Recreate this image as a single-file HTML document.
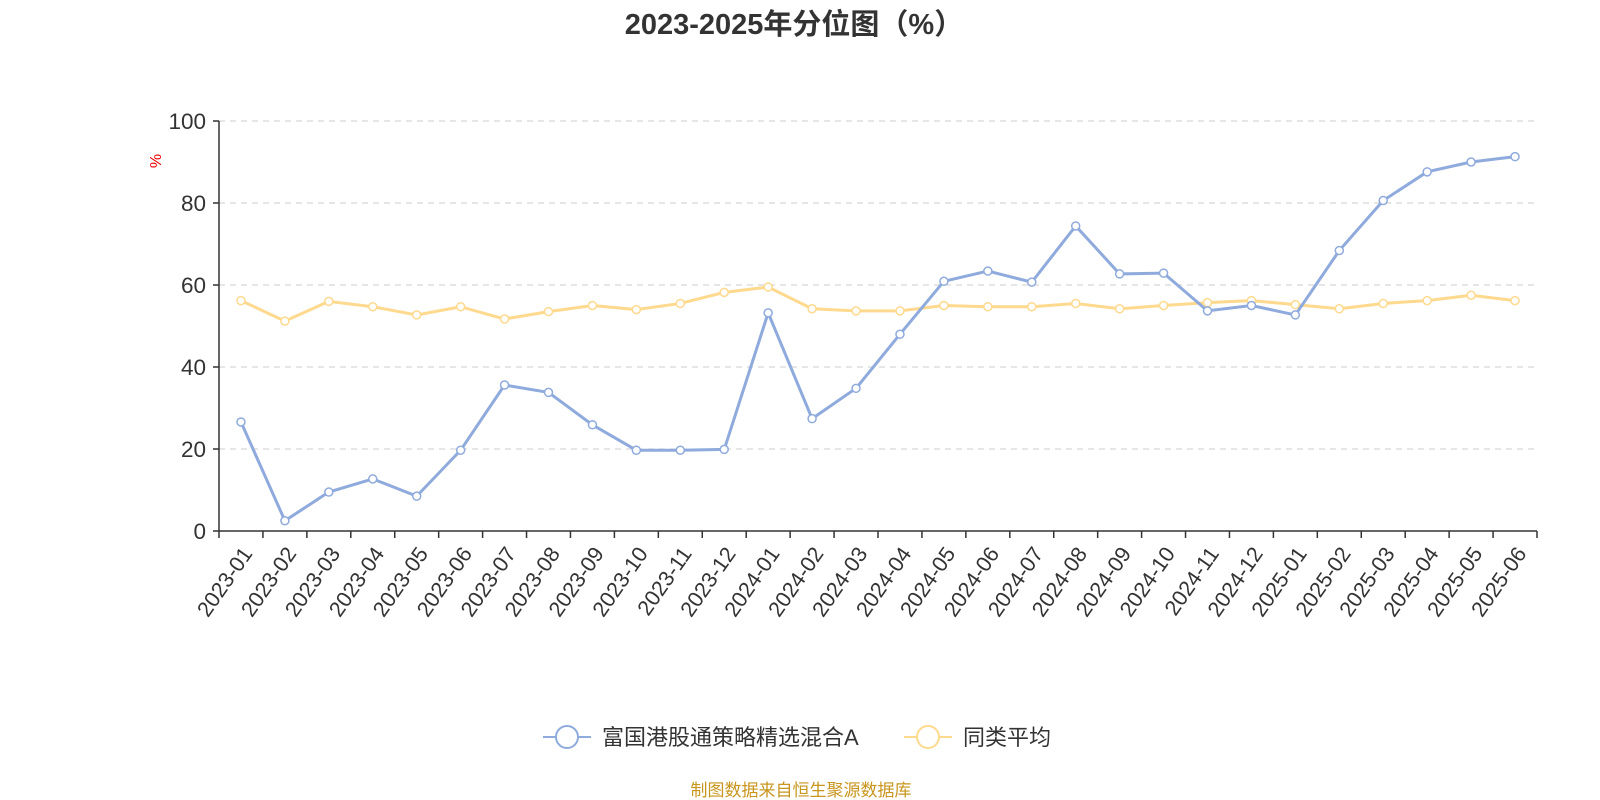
<!DOCTYPE html>
<html><head><meta charset="utf-8">
<style>
body{margin:0;background:#fff;font-family:"Liberation Sans","Noto Sans CJK SC",sans-serif;}
svg{display:block}
</style></head>
<body>
<svg id="chart" width="1600" height="800" xmlns="http://www.w3.org/2000/svg">
<text x="794" y="34" text-anchor="middle" font-size="29" font-weight="bold" fill="#333" font-family="Liberation Sans, Noto Sans CJK SC, sans-serif">2023-2025年分位图（%）</text>
<text x="0" y="0" transform="translate(161,161) rotate(-90)" text-anchor="middle" font-size="16" fill="#e00">%</text>
<g id="grid"></g>
<g id="axes"></g>
<g id="series"></g>
<g>
 <g>
  <line x1="543" y1="737" x2="591" y2="737" stroke="#8faadc" stroke-width="2"/>
  <circle cx="567" cy="737" r="11" fill="#fff" stroke="#8faadc" stroke-width="2"/>
  <text x="602" y="745" font-size="22" fill="#333">富国港股通策略精选混合A</text>
 </g>
 <g>
  <line x1="904" y1="737" x2="952" y2="737" stroke="#ffd98e" stroke-width="2"/>
  <circle cx="928" cy="737" r="11" fill="#fff" stroke="#ffd98e" stroke-width="2"/>
  <text x="963" y="745" font-size="22" fill="#333">同类平均</text>
 </g>
</g>
<text x="801" y="796" text-anchor="middle" font-size="17" fill="#c8961e">制图数据来自恒生聚源数据库</text>
</svg>
<script>
const categories=["2023-01","2023-02","2023-03","2023-04","2023-05","2023-06","2023-07","2023-08","2023-09","2023-10","2023-11","2023-12","2024-01","2024-02","2024-03","2024-04","2024-05","2024-06","2024-07","2024-08","2024-09","2024-10","2024-11","2024-12","2025-01","2025-02","2025-03","2025-04","2025-05","2025-06"];
const fundValues=[26.6,2.5,9.5,12.7,8.5,19.7,35.6,33.8,25.9,19.7,19.7,19.9,53.2,27.4,34.8,48,60.9,63.4,60.7,74.4,62.7,62.9,53.7,55,52.7,68.4,80.6,87.6,90,91.3];
const avgValues=[56.2,51.2,56,54.7,52.7,54.7,51.7,53.5,55,54,55.5,58.2,59.5,54.2,53.7,53.7,55,54.7,54.7,55.5,54.2,55,55.7,56.2,55.2,54.2,55.5,56.2,57.5,56.2];
const yTicks=[0,20,40,60,80,100];
const NS="http://www.w3.org/2000/svg";
const L=219,R=1537,T=121,B=531;
const band=(R-L)/categories.length;
const x=i=>L+band*(i+0.5);
const y=v=>B-(v/100)*(B-T);
function mk(tag,attrs,parent){const e=document.createElementNS(NS,tag);for(const k in attrs)e.setAttribute(k,attrs[k]);parent.appendChild(e);return e;}
const grid=document.getElementById('grid'),axes=document.getElementById('axes'),series=document.getElementById('series');
yTicks.forEach(t=>{
 if(t>0){const g=mk('line',{x1:L,x2:R,y1:y(t),y2:y(t),stroke:'#ccc','stroke-dasharray':'6,5'},grid);
 
 }
 const tk=mk('line',{x1:L-6,x2:L,y1:y(t),y2:y(t),stroke:'#333','stroke-width':1.5},axes);
 
 
 const lb=mk('text',{x:L-13,y:y(t)+8,'text-anchor':'end','font-size':22.5,fill:'#333'},axes);
 lb.textContent=t;
 
 
});
const ya=mk('line',{x1:L,x2:L,y1:T,y2:B,stroke:'#333','stroke-width':1.5},axes);


const xa=mk('line',{x1:L,x2:R,y1:B,y2:B,stroke:'#333','stroke-width':1.5},axes);


for(let i=0;i<=categories.length;i++){
 const tk=mk('line',{x1:L+band*i,x2:L+band*i,y1:B,y2:B+7,stroke:'#333','stroke-width':1.5},axes);
 
 
}
categories.forEach((c,i)=>{
 const px=x(i),py=B+14;
 const lb=mk('text',{x:px,y:py,'text-anchor':'end','font-size':21.5,fill:'#333',transform:`rotate(-55 ${px} ${py})`,dy:'0.7em'},axes);
 lb.textContent=c;
 
 
});
function drawSeries(vals,color,name){
 const p=mk('polyline',{points:vals.map((v,i)=>x(i)+','+y(v)).join(' '),fill:'none',stroke:color,'stroke-width':3},series);
 
 
 vals.forEach((v,i)=>{
  const c=mk('circle',{cx:x(i),cy:y(v),r:4,fill:'#fff',stroke:color,'stroke-width':1.5},series);
  
  
 });
}
drawSeries(avgValues,'#ffd98e','peer-average');
drawSeries(fundValues,'#8faadc','fund');
</script>
</body></html>
